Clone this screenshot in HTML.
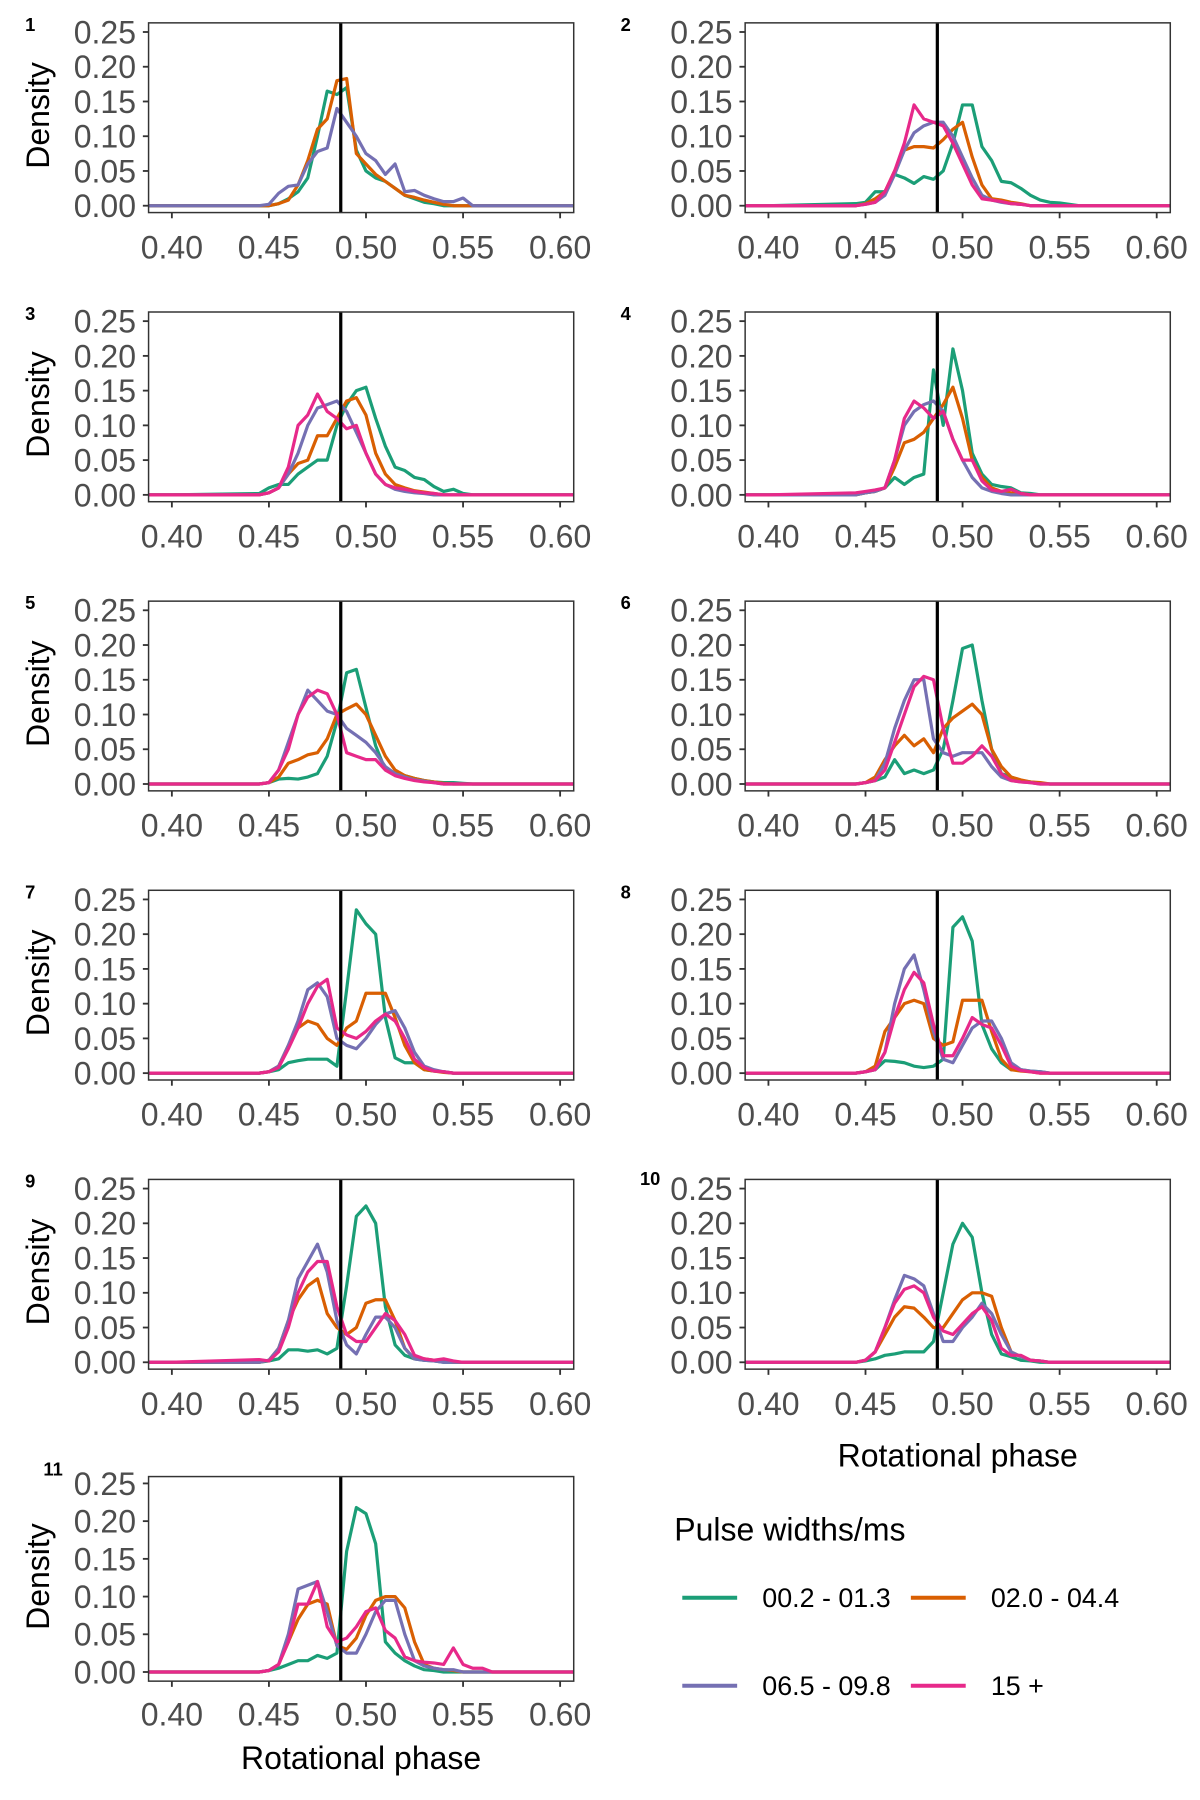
<!DOCTYPE html>
<html><head><meta charset="utf-8">
<style>
html,body{margin:0;padding:0;background:#fff;}
svg{display:block;}
text{font-family:"Liberation Sans","DejaVu Sans",sans-serif;}
</style></head>
<body>
<svg id="chart" xmlns="http://www.w3.org/2000/svg" width="1200" height="1800" viewBox="0 0 1050 1575"></svg>
<script>
const phases = [0.445,0.45,0.455,0.46,0.465,0.47,0.475,0.48,0.485,0.49,0.495,0.50,0.505,0.51,0.515,0.52,0.525,0.53,0.535,0.54,0.545,0.55,0.555,0.56,0.565];
const seriesNames = ["00.2 - 01.3","02.0 - 04.4","06.5 - 09.8","15 +"];
const seriesColors = ["#1B9E77","#D95F02","#7570B3","#E7298A"];
const xTicks = [0.40,0.45,0.50,0.55,0.60];
const xTickLabels = ["0.40","0.45","0.50","0.55","0.60"];
const yTicks = [0,0.05,0.10,0.15,0.20,0.25];
const yTickLabels = ["0.00","0.05","0.10","0.15","0.20","0.25"];
const refPhase = 0.487;

const p1 = [
 [0,0,.003,.01,.02,.04,.10,.165,.16,.17,.08,.05,.04,.035,.025,.015,.01,.005,.003,0,0,0,0,0,0],
 [0,0,.003,.008,.03,.065,.11,.125,.18,.183,.075,.06,.045,.035,.025,.015,.012,.008,.005,.002,0,0,0,0,0],
 [0,.002,.018,.028,.03,.06,.078,.083,.14,.12,.1,.075,.065,.045,.06,.02,.022,.015,.01,.006,.006,.011,0,0,0],
 null];
const p2 = [
 [.003,.005,.02,.02,.045,.04,.032,.042,.038,.05,.09,.145,.145,.085,.065,.035,.033,.025,.015,.008,.005,.004,.002,0,0],
 [0,.003,.01,.02,.05,.08,.085,.085,.083,.095,.11,.12,.07,.03,.01,.008,.005,.003,0,0,0,0,0,0,0],
 [0,.002,.005,.015,.045,.08,.105,.115,.12,.12,.1,.07,.04,.015,.008,.005,.003,.002,0,0,0,0,0,0,0],
 [0,.002,.005,.02,.05,.09,.145,.125,.12,.115,.09,.06,.03,.01,.008,.006,.003,.002,0,0,0,0,0,0,0]];
const p3 = [
 [.002,.01,.015,.015,.03,.04,.05,.05,.1,.13,.15,.155,.11,.07,.04,.035,.025,.022,.012,.005,.008,.002,0,0,0],
 [0,.003,.01,.03,.045,.05,.085,.085,.11,.135,.14,.115,.06,.03,.015,.01,.006,.004,.002,0,0,0,0,0,0],
 [0,.003,.01,.03,.06,.1,.125,.13,.135,.12,.09,.06,.03,.015,.008,.005,.003,.002,0,0,0,0,0,0,0],
 [0,.003,.01,.04,.1,.115,.145,.12,.11,.095,.1,.06,.03,.015,.01,.008,.005,.003,.002,0,0,0,0,0,0]];
const p4 = [
 [0,.003,.005,.01,.025,.015,.025,.03,.18,.1,.21,.15,.06,.03,.015,.012,.01,.003,.002,0,0,0,0,0,0],
 [0,.003,.005,.01,.04,.075,.08,.09,.11,.13,.155,.11,.05,.025,.01,.005,.003,.002,0,0,0,0,0,0,0],
 [0,.003,.005,.01,.05,.1,.12,.13,.135,.12,.08,.05,.025,.01,.005,.002,0,0,0,0,0,0,0,0,0],
 [.003,.005,.007,.01,.05,.11,.135,.125,.11,.12,.08,.05,.05,.02,.007,.005,.008,.002,0,0,0,0,0,0,0]];
const p5 = [
 [0,.002,.007,.008,.007,.01,.015,.04,.09,.16,.165,.11,.055,.02,.015,.012,.008,.005,.003,.002,.002,.001,0,0,0],
 [0,.002,.01,.03,.035,.042,.045,.065,.1,.108,.115,.1,.07,.04,.02,.012,.008,.005,.003,.001,0,0,0,0,0],
 [0,.002,.02,.06,.1,.135,.12,.105,.1,.08,.07,.06,.045,.025,.015,.01,.006,.004,.002,0,0,0,0,0,0],
 [0,.002,.02,.05,.1,.125,.135,.13,.1,.045,.04,.035,.035,.02,.012,.008,.005,.003,.002,0,0,0,0,0,0]];
const p6 = [
 [0,.002,.005,.01,.035,.015,.02,.015,.02,.05,.12,.195,.2,.12,.05,.015,.01,.005,.003,.001,0,0,0,0,0],
 [0,.002,.01,.035,.055,.07,.055,.065,.045,.08,.095,.105,.115,.1,.05,.025,.01,.006,.003,.002,0,0,0,0,0],
 [0,.002,.005,.03,.08,.12,.15,.15,.065,.045,.04,.045,.045,.045,.025,.01,.005,.003,.002,0,0,0,0,0,0],
 [0,.002,.005,.02,.06,.1,.14,.155,.15,.08,.03,.03,.04,.055,.04,.015,.005,.003,.002,0,0,0,0,0,0]];
const p7 = [
 [0,.002,.005,.015,.018,.02,.02,.02,.01,.12,.235,.215,.2,.08,.022,.015,.015,.005,.003,.002,0,0,0,0,0],
 [0,.002,.01,.04,.065,.075,.07,.05,.04,.065,.075,.115,.115,.115,.08,.04,.015,.005,.003,.001,0,0,0,0,0],
 [0,.002,.01,.04,.075,.12,.13,.11,.05,.04,.035,.05,.07,.085,.09,.065,.03,.01,.005,.002,0,0,0,0,0],
 [0,.002,.008,.035,.065,.1,.125,.135,.065,.055,.05,.06,.075,.085,.075,.05,.02,.008,.003,.002,0,0,0,0,0]];
const p8 = [
 [0,.002,.005,.018,.017,.015,.01,.008,.01,.02,.21,.225,.19,.07,.035,.015,.005,.005,.003,.002,0,0,0,0,0],
 [0,.002,.01,.06,.08,.1,.105,.1,.05,.04,.045,.105,.105,.105,.06,.02,.005,.003,.002,0,0,0,0,0,0],
 [0,.002,.005,.03,.1,.15,.17,.12,.06,.02,.015,.04,.065,.075,.075,.05,.015,.005,.003,.002,0,0,0,0,0],
 [0,.002,.005,.03,.08,.12,.145,.13,.07,.025,.025,.05,.08,.07,.065,.04,.01,.004,.002,0,0,0,0,0,0]];
const p9 = [
 [0,.002,.005,.018,.018,.016,.018,.012,.02,.11,.21,.225,.2,.08,.025,.01,.005,.003,.002,0,0,0,0,0,0],
 [0,.003,.02,.06,.09,.11,.12,.07,.05,.04,.05,.085,.09,.09,.06,.02,.005,.005,.003,.002,0,0,0,0,0],
 [0,.003,.02,.06,.12,.145,.17,.13,.06,.025,.012,.04,.065,.065,.05,.02,.005,.003,.002,0,0,0,0,0,0],
 [.004,.002,.015,.05,.1,.13,.145,.145,.08,.04,.03,.03,.05,.07,.06,.04,.01,.005,.003,.005,.002,0,0,0,0]];
const p10 = [
 [0,.002,.005,.01,.012,.015,.015,.015,.03,.1,.17,.2,.18,.1,.04,.012,.008,.003,.002,0,0,0,0,0,0],
 [0,.003,.015,.04,.065,.08,.078,.065,.05,.05,.07,.09,.1,.1,.095,.05,.015,.008,.003,.002,0,0,0,0,0],
 [0,.003,.015,.05,.09,.125,.12,.11,.07,.03,.03,.05,.065,.085,.07,.04,.015,.008,.003,.002,0,0,0,0,0],
 [0,.003,.015,.05,.085,.105,.11,.1,.065,.045,.04,.055,.07,.08,.06,.02,.01,.01,.003,.002,0,0,0,0,0]];
const p11 = [
 [0,.002,.005,.01,.015,.015,.022,.018,.025,.16,.218,.21,.17,.04,.025,.015,.008,.003,.002,0,0,0,0,0,0],
 [0,.002,.01,.04,.07,.09,.095,.09,.035,.03,.045,.075,.095,.1,.1,.085,.04,.01,.005,.003,.002,0,0,0,0],
 [0,.002,.01,.05,.11,.115,.12,.08,.035,.025,.025,.05,.08,.095,.095,.05,.015,.008,.005,.003,.003,0,0,0,0],
 [0,.002,.01,.04,.09,.09,.12,.06,.04,.045,.06,.08,.085,.055,.045,.02,.015,.013,.012,.01,.032,.01,.005,.005,0]];
const panelData = [p1,p2,p3,p4,p5,p6,p7,p8,p9,p10,p11];

const NS = "http://www.w3.org/2000/svg";
const svg = document.getElementById("chart");
const XMIN = 0.388, XMAX = 0.607;
function mk(tag, attrs, parent) {
  const e = document.createElementNS(NS, tag);
  for (const k in attrs) e.setAttribute(k, attrs[k]);
  (parent || svg).appendChild(e);
  return e;
}

function geom(i) {
  const col = i % 2, row = Math.floor(i / 2);
  const left = col === 0 ? 130 : 652, right = left + 372;
  if (i === 10) return {left, right, top: 1292, bottom: 1471, zero: 1463, k: 660, tickY: 1510, titleY: 1538};
  const top = 20 + 253 * row;
  return {left, right, top, bottom: top + 166, zero: top + 160, k: 608, tickY: top + 206, titleY: top + 241};
}

for (let i = 0; i < panelData.length; i++) {
  const g = geom(i);
  const xs = v => g.left + (v - XMIN) / (XMAX - XMIN) * (g.right - g.left);
  const ys = v => g.zero - v * g.k;
  const grp = mk("g", {});
  
  

  const lbl = mk("text", {x: i === 9 ? 560 : (i === 10 ? 38 : (i % 2 === 0 ? 22 : 543)), y: i === 9 ? 1037 : (i === 10 ? 1291 : g.top + 7), "font-size": 16, "font-weight": "bold", fill: "#000"}, grp);
  lbl.textContent = String(i + 1);
  
  

  if (i % 2 === 0) {
    const cy = (g.top + g.bottom) / 2 - 2;
    const yl = mk("text", {x: 43, y: cy, "font-size": 28, fill: "#000", "text-anchor": "middle", transform: `rotate(-90 43 ${cy})`}, grp);
    yl.textContent = "Density";
    
    
  }

  yTicks.forEach((t, j) => {
    mk("line", {x1: g.left - 5, x2: g.left, y1: ys(t), y2: ys(t), stroke: "#333", "stroke-width": 1.6}, grp);
    const tl = mk("text", {x: g.left - 11, y: ys(t) + 10, "font-size": 28, fill: "#4d4d4d", "text-anchor": "end"}, grp);
    tl.textContent = yTickLabels[j];
    
    
  });
  xTicks.forEach((t, j) => {
    mk("line", {x1: xs(t), x2: xs(t), y1: g.bottom, y2: g.bottom + 5, stroke: "#333", "stroke-width": 1.6}, grp);
    const tl = mk("text", {x: xs(t), y: g.tickY, "font-size": 28, fill: "#4d4d4d", "text-anchor": "middle"}, grp);
    tl.textContent = xTickLabels[j];
    
    
  });

  const defs = mk("clipPath", {id: "clip" + i}, grp);
  mk("rect", {x: g.left, y: g.top, width: g.right - g.left, height: g.bottom - g.top}, defs);

  panelData[i].forEach((vals, s) => {
    if (!vals) return;
    const pts = [[XMIN, 0], [0.40, 0]];
    phases.forEach((p, j) => pts.push([p, vals[j]]));
    pts.push([0.57, 0], [XMAX, 0]);
    const d = pts.map((q, j) => (j ? "L" : "M") + xs(q[0]).toFixed(1) + "," + ys(q[1]).toFixed(1)).join("");
    const path = mk("path", {d, fill: "none", stroke: seriesColors[s], "stroke-width": 2.8, "stroke-linejoin": "round", "clip-path": `url(#clip${i})`}, grp);
    
    
  });

  const vl = mk("line", {x1: xs(refPhase), x2: xs(refPhase), y1: g.top, y2: g.bottom, stroke: "#000", "stroke-width": 2.8}, grp);
  
  

  const box = mk("rect", {x: g.left, y: g.top, width: g.right - g.left, height: g.bottom - g.top, fill: "none", stroke: "#333", "stroke-width": 1.3}, grp);
  
  

  if (i >= 9) {
    const xt = mk("text", {x: (g.left + g.right) / 2, y: g.titleY + 10, "font-size": 28, fill: "#000", "text-anchor": "middle"}, grp);
    xt.textContent = "Rotational phase";
    
    
  }
}

const lg = mk("g", {});


const lt = mk("text", {x: 590, y: 1348, "font-size": 28, fill: "#000"}, lg);
lt.textContent = "Pulse widths/ms";


seriesNames.forEach((n, s) => {
  const lx = s % 2 === 0 ? 597 : 797, ly = s < 2 ? 1398 : 1475;
  const e = mk("g", {}, lg);
  
  
  mk("line", {x1: lx, x2: lx + 48, y1: ly, y2: ly, stroke: seriesColors[s], "stroke-width": 3.5}, e);
  const t = mk("text", {x: lx + 70, y: ly + 8, "font-size": 23.5, fill: "#000"}, e);
  t.textContent = n;
});
</script>
</body></html>
